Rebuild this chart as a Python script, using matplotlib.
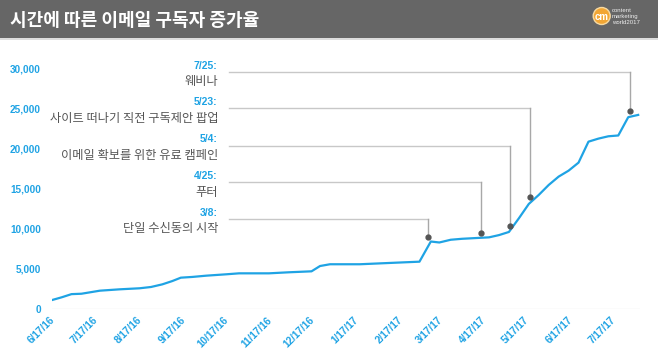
import datetime as dt
import matplotlib.pyplot as plt
from matplotlib.patches import Rectangle, Circle

# 구독자 수
날짜 = ['2016-06-16', '2016-06-23', '2016-06-30', '2016-07-07', '2016-07-20', '2016-08-03',
      '2016-08-17', '2016-08-25', '2016-09-02', '2016-09-09', '2016-09-15', '2016-09-23',
      '2016-10-03', '2016-10-17', '2016-10-26', '2016-11-16', '2016-11-30', '2016-12-16',
      '2016-12-22', '2016-12-29', '2017-01-19', '2017-02-14', '2017-03-02', '2017-03-10',
      '2017-03-16', '2017-03-24', '2017-04-01', '2017-04-20', '2017-04-27', '2017-05-04',
      '2017-05-11', '2017-05-18', '2017-05-25', '2017-06-01', '2017-06-08', '2017-06-15',
      '2017-06-22', '2017-06-29', '2017-07-06', '2017-07-13', '2017-07-20', '2017-07-27',
      '2017-08-03']
구독자 = [1100, 1450, 1850, 1900, 2280, 2450, 2580, 2740, 3070, 3480, 3900, 3990,
       4150, 4320, 4440, 4440, 4570, 4690, 5350, 5570, 5570, 5770, 5890, 8400,
       8280, 8620, 8740, 8920, 9200, 9590, 11290, 13080, 14200, 15440, 16480, 17220,
       18220, 20830, 21210, 21500, 21600, 23880, 24160]

# 주석: 점 위치(날짜, 값), 가로선 높이, 라벨
주석_날짜 = ['2017-03-08', '2017-04-14', '2017-05-05', '2017-05-19', '2017-07-28']
주석_값 = [9000, 9460, 10370, 13980, 24650]
주석_선높이 = [11200, 15770, 20330, 24980, 29500]
주석_라벨 = ['3/8:', '4/25:', '5/4:', '5/23:', '7/25:']
주석_설명 = ['단일 수신동의 시작', '푸터', '이메일 확보를 위한 유료 캠페인',
          '사이트 떠나기 직전 구독제안 팝업', '웨비나']

x_눈금 = ['2016-06-17', '2016-07-17', '2016-08-17', '2016-09-17', '2016-10-17',
        '2016-11-17', '2016-12-17', '2017-01-17', '2017-02-17', '2017-03-17',
        '2017-04-17', '2017-05-17', '2017-06-17', '2017-07-17']
x_라벨 = ['6/17/16', '7/17/16', '8/17/16', '9/17/16', '10/17/16', '11/17/16', '12/17/16',
        '1/17/17', '2/17/17', '3/17/17', '4/17/17', '5/17/17', '6/17/17', '7/17/17']
y_눈금 = [0, 5000, 10000, 15000, 20000, 25000, 30000]
y_라벨 = ['0', '5,000', '10,000', '15,000', '20,000', '25,000', '30,000']

파랑 = '#1fa3e4'
def d(s):
    return dt.datetime.strptime(s, '%Y-%m-%d')

fig = plt.figure(figsize=(6.58, 3.52), dpi=100)
fig.patch.set_facecolor('white')

# 제목 막대
fig.add_artist(Rectangle((0, 1 - 38 / 352), 1, 38 / 352, transform=fig.transFigure,
                         facecolor='#666666', edgecolor='none'))
fig.add_artist(Rectangle((0, 1 - 40 / 352), 1, 2 / 352, transform=fig.transFigure,
                         facecolor='#dddddd', edgecolor='none'))
fig.text(10 / 658, 1 - 20 / 352, '시간에 따른 이메일 구독자 증가율', color='white',
         fontsize=13, fontweight='bold', family=['Noto Sans CJK KR', 'DejaVu Sans'],
         va='center', ha='left')
# 로고 (대략)
fig.add_artist(Circle((6.017, 3.36), 0.085, transform=fig.dpi_scale_trans,
                      facecolor='#f2a634', edgecolor='#f7d9a0', lw=1))
fig.text(601.7 / 658, 1 - 16.5 / 352, 'cm', color='white', fontsize=7, fontweight='bold',
         ha='center', va='center', family='Liberation Sans')
for i, t in enumerate(['content', 'marketing', 'world2017']):
    fig.text(612 / 658, 1 - (11 + i * 5.5) / 352, t, color='#eeeeee', fontsize=4.3,
             ha='left', va='center', family='Liberation Sans')

ax = fig.add_axes([51.6 / 658, (352 - 309) / 352, 588 / 658, 241 / 352])
ax.plot([d(s) for s in 날짜], 구독자, color=파랑, lw=1.6, solid_joinstyle='round')
ax.set_xlim(d('2016-06-16'), d('2017-08-04'))
ax.set_ylim(0, 30000)
ax.axhline(0, color='#eeeeee', lw=1, zorder=0)
for s in ax.spines.values():
    s.set_visible(False)

ax.set_yticks(y_눈금)
ax.set_yticklabels(y_라벨)
ax.set_xticks([d(s) for s in x_눈금])
ax.set_xticklabels(x_라벨, rotation=45, ha='right', va='center', rotation_mode='anchor')
ax.tick_params(axis='both', length=0, colors=파랑, labelsize=7.2)
ax.tick_params(axis='y', pad=7.6)
ax.tick_params(axis='x', pad=7)
for lab in ax.get_xticklabels() + ax.get_yticklabels():
    lab.set_fontweight('bold')
    lab.set_family('Liberation Sans')

선_시작 = d('2016-10-19')
for s, v, h, lab, txt in zip(주석_날짜, 주석_값, 주석_선높이, 주석_라벨, 주석_설명):
    x = d(s)
    ax.plot([선_시작, x], [h, h], color='#c8c8c8', lw=1, clip_on=False, zorder=1)
    ax.plot([x, x], [v, h], color='#a8a8a8', lw=1, clip_on=False, zorder=1)
    ax.plot(x, v, 'o', color='#555555', ms=3.5, clip_on=False, zorder=3)
    ax.annotate(lab, xy=(선_시작, h), xytext=(-8.5, 4.5), textcoords='offset points',
                ha='right', va='center', color=파랑, fontsize=7.5, fontweight='bold',
                family='Liberation Sans', annotation_clip=False)
    ax.annotate(txt, xy=(선_시작, h), xytext=(-8, -7), textcoords='offset points',
                ha='right', va='center', color='#555555', fontsize=8.8,
                family=['Noto Sans CJK KR', 'DejaVu Sans'], annotation_clip=False)

fig.savefig('out.png', dpi=100)
